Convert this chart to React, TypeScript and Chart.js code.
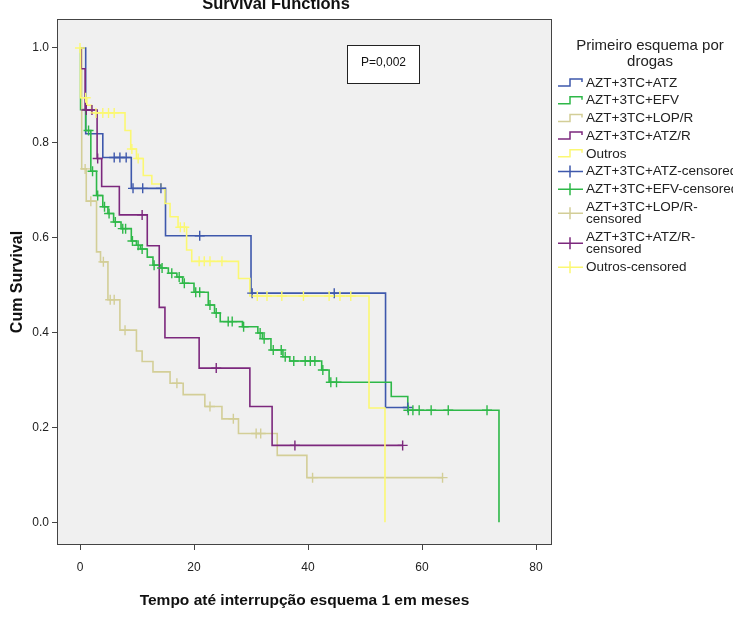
import React, { useEffect, useRef } from 'react';
import { Chart, registerables } from 'chart.js';

Chart.register(...registerables);

// ---------- data ----------
const seriesNames = ['AZT+3TC+ATZ', 'AZT+3TC+EFV', 'AZT+3TC+LOP/R', 'AZT+3TC+ATZ/R', 'Outros'];
const seriesColors = ['#3E58AC', '#2EB848', '#D3CE97', '#7C287D', '#FBF873'];

// AZT+3TC+ATZ
const atzTimes = [0, 1.0, 4.0, 9.0, 15.0, 30.0, 53.6, 57.5];
const atzSurv = [1, 0.819, 0.769, 0.704, 0.604, 0.483, 0.242, 0.242];
const atzCensored = [6.0, 7.0, 8.1, 9.3, 11.0, 14.2, 21.0, 30.2, 44.6, 57.5];

// AZT+3TC+EFV
const efvTimes = [0, 0.1, 1.0, 1.9, 2.9, 4.0, 4.9, 5.9, 7.2, 9.0, 9.9, 10.6, 11.8, 12.8, 14.2, 15.5, 17.0, 18.0, 20.0, 22.5, 23.6, 24.6, 28.5, 31.2, 32.0, 33.5, 35.6, 36.8, 42.4, 43.7, 54.6, 57.5, 73.5];
const efvSurv = [1, 0.87, 0.826, 0.74, 0.689, 0.665, 0.651, 0.633, 0.619, 0.593, 0.584, 0.576, 0.559, 0.542, 0.536, 0.525, 0.517, 0.504, 0.485, 0.458, 0.441, 0.423, 0.412, 0.399, 0.387, 0.363, 0.349, 0.34, 0.321, 0.295, 0.265, 0.236, 0];
const efvCensored = [1.5, 2.2, 3.1, 4.3, 5.1, 6.2, 7.5, 8.0, 9.2, 10.2, 10.9, 13.0, 14.4, 16.1, 17.4, 18.3, 20.3, 21.0, 22.8, 23.9, 26.0, 26.7, 28.7, 31.6, 32.3, 33.9, 35.3, 36.0, 37.5, 39.5, 40.4, 41.2, 42.6, 44.0, 45.0, 57.6, 58.4, 59.5, 61.6, 64.6, 71.4];

// AZT+3TC+LOP/R
const lopTimes = [0, 0.3, 1.1, 2.9, 3.6, 4.9, 7.0, 9.9, 10.9, 12.8, 15.8, 18.1, 21.9, 24.9, 27.8, 34.6, 39.8, 63.6];
const lopSurv = [1, 0.745, 0.677, 0.57, 0.549, 0.469, 0.405, 0.361, 0.339, 0.317, 0.293, 0.269, 0.244, 0.218, 0.187, 0.141, 0.094, 0.094];
const lopCensored = [0.9, 1.9, 4.1, 5.3, 6.0, 7.9, 17.0, 22.8, 26.9, 30.9, 31.7, 40.8, 63.6];

// AZT+3TC+ATZ/R
const atzrTimes = [0, 0.2, 0.9, 3.0, 3.8, 6.9, 11.8, 13.9, 14.9, 20.9, 29.8, 33.7, 56.6];
const atzrSurv = [1, 0.956, 0.869, 0.767, 0.708, 0.648, 0.583, 0.453, 0.389, 0.325, 0.244, 0.162, 0.162];
const atzrCensored = [1.1, 2.1, 3.1, 10.9, 23.9, 37.7, 56.6];

// Outros
const outTimes = [0, 0.1, 1.2, 2.0, 7.9, 8.9, 9.9, 11.1, 12.6, 14.2, 14.9, 15.8, 17.2, 18.7, 19.6, 27.8, 29.8, 50.7, 53.5];
const outSurv = [1, 0.895, 0.879, 0.863, 0.826, 0.787, 0.767, 0.731, 0.713, 0.703, 0.672, 0.644, 0.622, 0.574, 0.55, 0.514, 0.477, 0.241, 0];
const outCensored = [0, 1.0, 2.8, 4.0, 5.0, 6.0, 9.1, 10.2, 17.6, 18.3, 20.9, 21.8, 22.8, 24.9, 31.1, 32.8, 35.4, 39.2, 43.7, 45.6, 47.5];

const xTicks = [0, 20, 40, 60, 80];
const yTicks = [0, 0.2, 0.4, 0.6, 0.8, 1.0];

const chartTitle = 'Survival Functions';
const xTitle = 'Tempo até interrupção esquema 1 em meses';
const yTitle = 'Cum Survival';
const pValueText = 'P=0,002';
const legendTitle = ['Primeiro esquema por', 'drogas'];
const censoredLabels = [
  ['AZT+3TC+ATZ-censored'],
  ['AZT+3TC+EFV-censored'],
  ['AZT+3TC+LOP/R-', 'censored'],
  ['AZT+3TC+ATZ/R-', 'censored'],
  ['Outros-censored'],
];

const groups = [
  { times: atzTimes, surv: atzSurv, cens: atzCensored },
  { times: efvTimes, surv: efvSurv, cens: efvCensored },
  { times: lopTimes, surv: lopSurv, cens: lopCensored },
  { times: atzrTimes, surv: atzrSurv, cens: atzrCensored },
  { times: outTimes, surv: outSurv, cens: outCensored },
];

const FONT = "'Liberation Sans', Arial, Helvetica, sans-serif";

function survAt(times: number[], surv: number[], t: number) {
  let v = surv[0];
  for (let i = 0; i < times.length; i++) if (times[i] <= t) v = surv[i];
  return v;
}

const decorPlugin = {
  id: 'decor',
  beforeDatasetsDraw(chart: any) {
    const { ctx, chartArea: a } = chart;
    ctx.save();
    ctx.fillStyle = '#F0F0F0';
    ctx.fillRect(a.left, a.top, a.right - a.left, a.bottom - a.top);
    ctx.restore();
  },
  afterDraw(chart: any) {
    const { ctx, chartArea: a } = chart;
    ctx.save();
    // frame
    ctx.strokeStyle = '#444';
    ctx.lineWidth = 1;
    ctx.strokeRect(Math.round(a.left) + 0.5, Math.round(a.top) + 0.5, Math.round(a.right - a.left) - 1, Math.round(a.bottom - a.top) - 1);

    // p-value box
    const bx = 347.5, by = 45.5, bw = 72, bh = 38;
    ctx.fillStyle = '#FFFFFF';
    ctx.fillRect(bx, by, bw, bh);
    ctx.strokeStyle = '#222';
    ctx.strokeRect(bx, by, bw, bh);
    ctx.fillStyle = '#111';
    ctx.font = `12px ${FONT}`;
    ctx.textAlign = 'center';
    ctx.textBaseline = 'middle';
    ctx.fillText(pValueText, bx + bw / 2, by + bh / 2 - 2);

    // legend
    ctx.fillStyle = '#222';
    ctx.font = `15px ${FONT}`;
    ctx.textAlign = 'center';
    legendTitle.forEach((t, i) => ctx.fillText(t, 650, 46 + i * 16));

    ctx.font = `13.5px ${FONT}`;
    ctx.textAlign = 'left';
    const x0 = 558, x1 = 583, tx = 586;
    let y = 83;
    const step = 17.7, lineGap = 12.5;
    seriesNames.forEach((name, i) => {
      ctx.strokeStyle = seriesColors[i];
      ctx.lineWidth = 1.5;
      ctx.beginPath();
      ctx.moveTo(x0, y + 3);
      ctx.lineTo(570, y + 3);
      ctx.lineTo(570, y - 4);
      ctx.lineTo(x1 - 1, y - 4);
      ctx.lineTo(x1 - 1, y - 1);
      ctx.stroke();
      ctx.fillStyle = '#222';
      ctx.fillText(name, tx, y);
      y += step;
    });
    censoredLabels.forEach((lines, i) => {
      const mid = y + ((lines.length - 1) * lineGap) / 2;
      ctx.strokeStyle = seriesColors[i];
      ctx.lineWidth = 1.5;
      ctx.beginPath();
      ctx.moveTo(x0, mid);
      ctx.lineTo(x1, mid);
      ctx.moveTo(570, mid - 6);
      ctx.lineTo(570, mid + 6);
      ctx.stroke();
      ctx.fillStyle = '#222';
      lines.forEach((l, k) => ctx.fillText(l, tx, y + k * lineGap));
      y += step + (lines.length - 1) * lineGap;
    });
    ctx.restore();
  },
};

export default function App() {
  const ref = useRef<HTMLCanvasElement | null>(null);

  useEffect(() => {
    if (!ref.current) return;
    const datasets: any[] = [];
    groups.forEach((g, i) => {
      datasets.push({
        label: seriesNames[i],
        data: g.times.map((t, j) => ({ x: t, y: g.surv[j] })),
        showLine: true,
        stepped: 'before',
        borderColor: seriesColors[i],
        backgroundColor: seriesColors[i],
        borderWidth: 1.6,
        pointRadius: 0,
        fill: false,
        order: 10 - i,
      });
      datasets.push({
        label: seriesNames[i] + '-censored',
        data: g.cens.map((t) => ({ x: t, y: survAt(g.times, g.surv, t) })),
        showLine: false,
        pointStyle: 'cross',
        pointRadius: 5,
        borderColor: seriesColors[i],
        borderWidth: 1.4,
        order: 5 - i,
      });
    });

    const chart = new Chart(ref.current, {
      type: 'scatter',
      data: { datasets },
      options: {
        animation: false,
        responsive: false,
        layout: { padding: { left: 0, right: 181, top: 0, bottom: 0 } },
        plugins: {
          legend: { display: false },
          tooltip: { enabled: false },
          title: {
            display: true,
            text: chartTitle,
            color: '#111',
            font: { family: FONT, size: 16.5, weight: 'bold' },
            padding: { top: -5, bottom: 4.2 },
          },
        },
        scales: {
          x: {
            type: 'linear',
            min: -4.035,
            max: 82.8,
            afterBuildTicks: (s: any) => {
              s.ticks = xTicks.map((v) => ({ value: v }));
            },
            afterFit: (s: any) => {
              s.height = 79;
            },
            ticks: {
              color: '#222',
              font: { family: FONT, size: 12 },
              padding: 10,
              maxRotation: 0,
              autoSkip: false,
              callback: (v: any) => String(v),
            },
            grid: { drawOnChartArea: false, drawTicks: true, tickLength: 5, color: '#444' },
            border: { display: false },
            title: {
              display: true,
              text: xTitle,
              color: '#111',
              font: { family: FONT, size: 15.5, weight: 'bold' },
              padding: { top: 0, bottom: 14 },
            },
          },
          y: {
            type: 'linear',
            min: -0.048,
            max: 1.061,
            afterBuildTicks: (s: any) => {
              s.ticks = yTicks.map((v) => ({ value: v }));
            },
            afterFit: (s: any) => {
              s.width = 57;
            },
            ticks: {
              color: '#222',
              font: { family: FONT, size: 12 },
              padding: 3,
              autoSkip: false,
              callback: (v: any) => Number(v).toFixed(1),
            },
            grid: { drawOnChartArea: false, drawTicks: true, tickLength: 5, color: '#444' },
            border: { display: false },
            title: {
              display: true,
              text: yTitle,
              color: '#111',
              font: { family: FONT, size: 16, weight: 'bold' },
              padding: { top: 8, bottom: 0 },
            },
          },
        },
      },
      plugins: [decorPlugin],
    } as any);
    return () => chart.destroy();
  }, []);

  return (
    <div style={{ position: 'fixed', left: 0, top: 0, width: 733, height: 624, background: '#fff' }}>
      <canvas ref={ref} width={733} height={624} style={{ display: 'block' }} />
    </div>
  );
}
